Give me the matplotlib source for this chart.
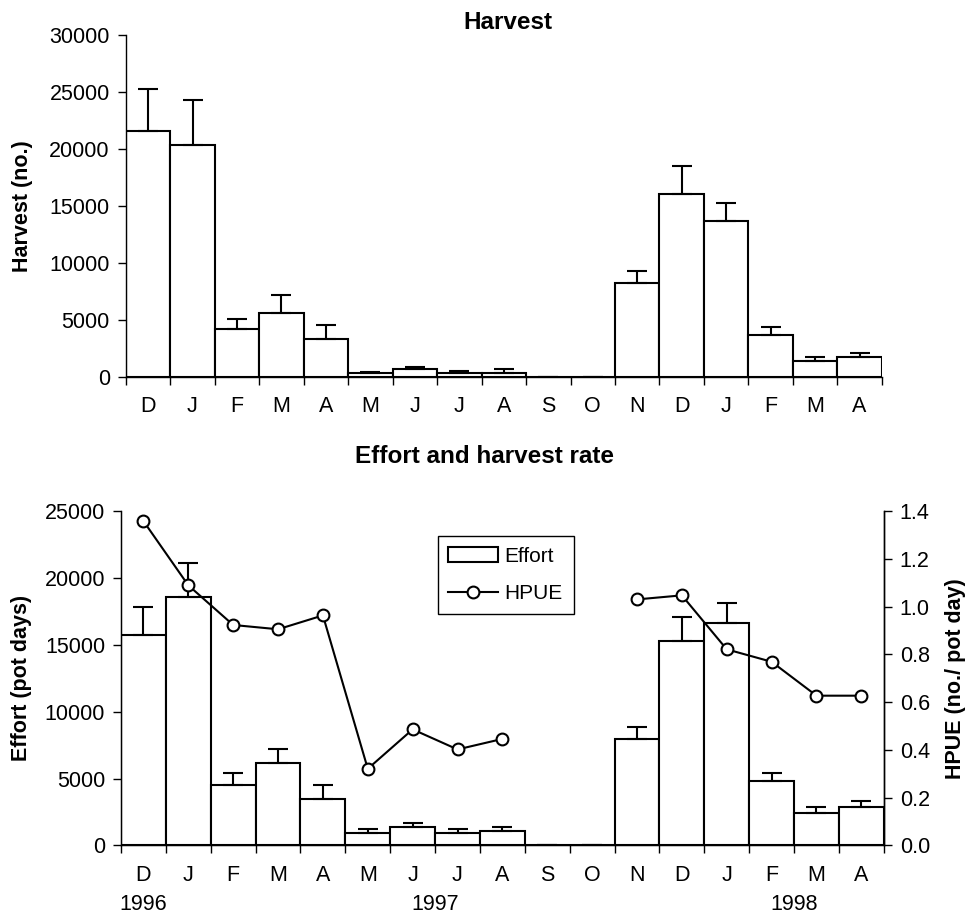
import numpy as np
import matplotlib
matplotlib.use("Agg")
import matplotlib.pyplot as plt
from matplotlib.patches import Patch
from matplotlib.lines import Line2D

plt.rcParams['font.family'] = ['Liberation Sans', 'DejaVu Sans']
plt.rcParams['font.size'] = 15

# Data
months = ['D', 'J', 'F', 'M', 'A', 'M', 'J', 'J', 'A', 'S', 'O', 'N', 'D', 'J', 'F', 'M', 'A']
harvest = [21600, 20350, 4200, 5600, 3330, 350, 730, 350, 380, 0, 0, 8250, 16000, 13700, 3700, 1400, 1780]
harvest_err = [3650, 3900, 880, 1580, 1260, 50, 150, 200, 320, 0, 0, 1080, 2460, 1580, 700, 350, 350]
effort = [15700, 18590, 4490, 6180, 3440, 900, 1370, 900, 1060, 0, 0, 7950, 15280, 16620, 4830, 2420, 2840]
effort_err = [2100, 2500, 940, 1000, 1050, 320, 280, 320, 290, 0, 0, 920, 1790, 1480, 600, 420, 470]
hpue = [1.358, 1.089, 0.923, 0.905, 0.963, 0.321, 0.486, 0.402, 0.446, np.nan, np.nan,
        1.030, 1.047, 0.821, 0.769, 0.627, 0.627]
years = [('1996', 0), ('1997', 6.5), ('1998', 14.5)]

x = np.arange(len(months))
bounds = np.arange(len(months) + 1) - 0.5

fig = plt.figure(figsize=(9.68, 9.15), dpi=100)
ax1 = fig.add_axes([0.130, 0.588, 0.781, 0.374])
ax2 = fig.add_axes([0.125, 0.076, 0.788, 0.3655])

bar_kw = dict(width=1.0, color='white', edgecolor='black', linewidth=1.5)
err_kw = dict(fmt='none', ecolor='black', elinewidth=1.5, capsize=7.2, capthick=1.5)
tick_fs = 15.5


def style_x(ax):
    ax.set_xlim(-0.5, len(months) - 0.5)
    ax.set_xticks(bounds)
    ax.set_xticklabels([])
    ax.set_xticks(x, minor=True)
    ax.set_xticklabels(months, minor=True)
    ax.tick_params(axis='x', which='major', direction='out', length=5.5, width=1)
    ax.tick_params(axis='x', which='minor', length=0, pad=14, labelsize=tick_fs)
    ax.tick_params(axis='y', direction='out', length=5.5, width=1, pad=6, labelsize=tick_fs)
    for s in ax.spines.values():
        s.set_linewidth(1)


# Harvest panel
ax1.bar(x, harvest, **bar_kw)
ax1.errorbar(x, harvest, yerr=[np.zeros(len(x)), harvest_err], **err_kw)
ax1.set_ylim(0, 30000)
ax1.set_yticks(np.arange(0, 30001, 5000))
ax1.spines['top'].set_visible(False)
ax1.spines['right'].set_visible(False)
style_x(ax1)
ax1.set_ylabel('Harvest (no.)', fontweight='bold', fontsize=15.5)
ax1.yaxis.set_label_coords(-0.123, 0.5)
fig.text(0.525, 0.975, 'Harvest', ha='center', va='center', fontweight='bold', fontsize=17.5)

# Effort and HPUE panel
ax2.bar(x, effort, **bar_kw)
ax2.errorbar(x, effort, yerr=[np.zeros(len(x)), effort_err], **err_kw)
ax2.set_ylim(0, 25000)
ax2.set_yticks(np.arange(0, 25001, 5000))
ax2.spines['top'].set_visible(False)
style_x(ax2)
ax2.set_ylabel('Effort (pot days)', fontweight='bold', fontsize=15.5)
ax2.yaxis.set_label_coords(-0.117, 0.5)

ax3 = ax2.twinx()
ax3.plot(x, hpue, color='black', linewidth=1.5, marker='o', markersize=8.5,
         markerfacecolor='white', markeredgecolor='black', markeredgewidth=1.5)
ax3.set_ylim(0, 1.4)
ax3.set_yticks(np.arange(0, 1.41, 0.2))
ax3.set_yticklabels([f'{v:.1f}' for v in np.arange(0, 1.41, 0.2)])
ax3.tick_params(axis='y', direction='out', length=5.5, width=1, pad=6, labelsize=tick_fs)
ax3.spines['top'].set_visible(False)
ax3.spines['right'].set_linewidth(1)
ax3.set_ylabel('HPUE (no./ pot day)', fontweight='bold', fontsize=15.5)
ax3.yaxis.set_label_coords(1.080, 0.5)

for label, xpos in years:
    ax2.text(xpos, -0.176, label, transform=ax2.get_xaxis_transform(),
             ha='center', va='center', fontsize=tick_fs)

fig.text(0.501, 0.501, 'Effort and harvest rate', ha='center', va='center',
         fontweight='bold', fontsize=17.5)

handles = [Patch(facecolor='white', edgecolor='black', linewidth=1.5),
           Line2D([], [], color='black', linewidth=1.5, marker='o', markersize=8.5,
                  markerfacecolor='white', markeredgewidth=1.5)]
leg = ax3.legend(handles, ['Effort', 'HPUE'], loc='upper left',
                 bbox_to_anchor=(0.415, 0.926), fancybox=False, framealpha=1,
                 edgecolor='black', fontsize=15, handlelength=2.4, handletextpad=0.3,
                 borderpad=0.52, labelspacing=0.9, borderaxespad=0)
leg.get_frame().set_linewidth(1)

fig.savefig('out.png', dpi=100)
